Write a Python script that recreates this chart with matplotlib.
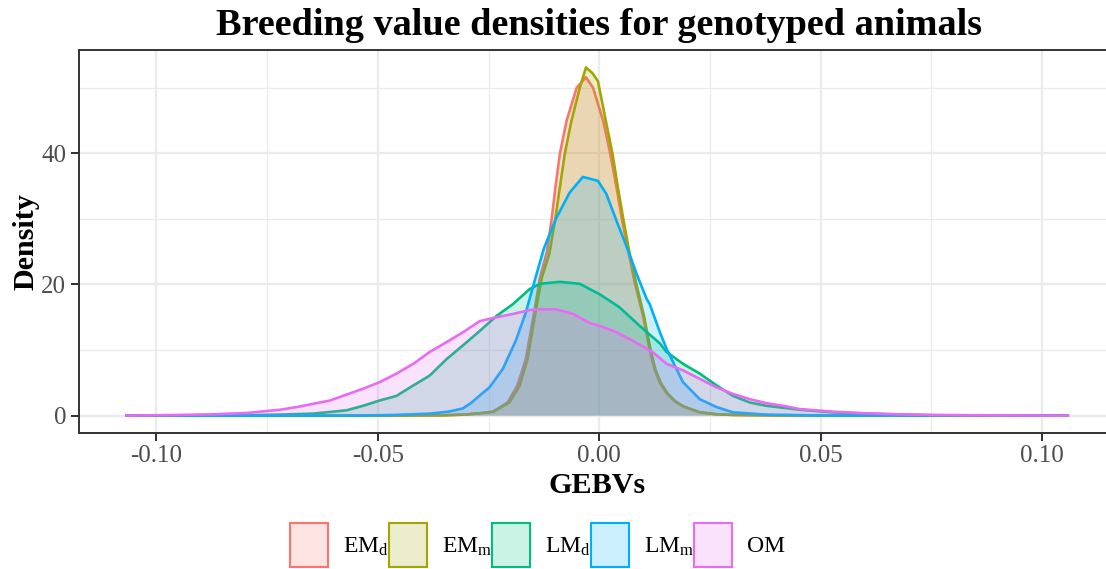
import numpy as np
import matplotlib
matplotlib.use("Agg")
import matplotlib.pyplot as plt
from matplotlib.patches import Patch
from matplotlib.colors import to_rgba

# ================= DATA =================
labels = [r"EM$_{\mathrm{d}}$", r"EM$_{\mathrm{m}}$", r"LM$_{\mathrm{d}}$",
          r"LM$_{\mathrm{m}}$", "OM"]
colors = ["#F8766D", "#A3A500", "#00BF7D", "#00B0F6", "#E76BF3"]

emd_x = [-0.1068, -0.045, -0.035, -0.0308, -0.027, -0.0241, -0.0207, -0.0185, -0.0166,
         -0.0149, -0.0134, -0.0118, -0.0108, -0.0099, -0.0089, -0.0074, -0.0051, -0.0030,
         -0.0014, 0.0009, 0.0025, 0.0039, 0.0052, 0.0066, 0.0080, 0.0099, 0.0114, 0.0125,
         0.0137, 0.0152, 0.0170, 0.0189, 0.0227, 0.0265, 0.0302, 0.040, 0.1058]
emd_y = [0, 0, 0.05, 0.15, 0.35, 0.6, 2.0, 4.6, 8.6,
         15.0, 21.0, 25.0, 29.7, 34.8, 39.9, 44.9, 50.0, 51.6,
         50.0, 44.9, 39.9, 34.8, 29.7, 25.0, 20.3, 15.2, 10.0, 7.0,
         5.0, 3.4, 2.2, 1.4, 0.5, 0.2, 0.1, 0.02, 0]

emm_x = [-0.1068, -0.045, -0.035, -0.0305, -0.0268, -0.0238, -0.0203, -0.0180, -0.0162,
         -0.0146, -0.0130, -0.0113, -0.0100, -0.0089, -0.0078, -0.0063, -0.0044, -0.0030,
         -0.0015, -0.0003, 0.0015, 0.0030, 0.0042, 0.0055, 0.0069, 0.0083, 0.0101, 0.0116,
         0.0127, 0.0139, 0.0154, 0.0172, 0.0190, 0.0227, 0.0265, 0.0302, 0.040, 0.1058]
emm_y = [0, 0, 0.05, 0.15, 0.35, 0.6, 2.0, 4.5, 8.6,
         15.0, 21.0, 24.6, 29.7, 34.8, 39.9, 44.9, 50.0, 53.1,
         52.2, 51.0, 44.9, 39.9, 34.8, 29.7, 24.6, 20.3, 15.2, 10.0,
         7.0, 5.0, 3.4, 2.2, 1.4, 0.5, 0.2, 0.1, 0.02, 0]

lmd_x = [-0.1068, -0.080, -0.072, -0.0646, -0.0571, -0.0533, -0.0496, -0.0458, -0.0420,
         -0.0383, -0.0345, -0.0308, -0.0270, -0.0232, -0.0195, -0.0157, -0.0134, -0.0089,
         -0.0044, 0.0001, 0.0046, 0.0091, 0.0137, 0.0152, 0.0189, 0.0227, 0.0265, 0.0302,
         0.0340, 0.0377, 0.0452, 0.0527, 0.0603, 0.0678, 0.0753, 0.1058]
lmd_y = [0, 0.05, 0.15, 0.3, 0.8, 1.5, 2.3, 3.0, 4.6,
         6.1, 8.6, 10.7, 12.9, 15.2, 17.0, 19.3, 20.1, 20.4,
         20.1, 18.5, 16.5, 13.7, 11.0, 9.7, 7.9, 6.4, 4.6, 3.0,
         2.0, 1.5, 0.9, 0.5, 0.3, 0.15, 0.05, 0]

lmm_x = [-0.1068, -0.055, -0.046, -0.0383, -0.0340, -0.0308, -0.0290, -0.0271, -0.0248,
         -0.0218, -0.0188, -0.0166, -0.0147, -0.0125, -0.0098, -0.0067, -0.0037, -0.0003,
         0.0016, 0.0039, 0.0065, 0.0085, 0.0107, 0.0114, 0.0137, 0.0152, 0.0189, 0.0227,
         0.0265, 0.0302, 0.0377, 0.050, 0.1058]
lmm_y = [0, 0, 0.1, 0.3, 0.6, 1.1, 1.9, 3.0, 4.3,
         7.1, 11.5, 15.7, 20.3, 25.5, 30.0, 34.0, 36.4, 35.8,
         33.8, 29.7, 25.2, 21.5, 17.8, 17.0, 12.7, 10.2, 5.1, 2.5,
         1.3, 0.5, 0.15, 0.02, 0]

om_x = [-0.1068, -0.0946, -0.0871, -0.0796, -0.0720, -0.0683, -0.0646, -0.0608, -0.0571,
        -0.0533, -0.0496, -0.0458, -0.0420, -0.0383, -0.0345, -0.0308, -0.0270, -0.0232,
        -0.0195, -0.0157, -0.0134, -0.0097, -0.0059, -0.0021, 0.0009, 0.0039, 0.0076,
        0.0122, 0.0152, 0.0189, 0.0227, 0.0265, 0.0302, 0.0340, 0.0377, 0.0415, 0.0452,
        0.0527, 0.0603, 0.0678, 0.0753, 0.0850, 0.1058]
om_y = [0, 0.1, 0.2, 0.4, 0.9, 1.3, 1.8, 2.3, 3.2,
        4.1, 5.1, 6.4, 7.9, 9.7, 11.2, 12.7, 14.4, 15.0,
        15.5, 16.1, 16.2, 16.2, 15.5, 14.1, 13.5, 12.7, 11.4,
        9.6, 7.9, 6.9, 5.6, 4.3, 3.3, 2.5, 1.9, 1.5, 1.0,
        0.6, 0.35, 0.2, 0.1, 0.05, 0]

series_x = [emd_x, emm_x, lmd_x, lmm_x, om_x]
series_y = [emd_y, emm_y, lmd_y, lmm_y, om_y]

x_ticks = [-0.10, -0.05, 0.0, 0.05, 0.10]
x_minor = [-0.075, -0.025, 0.025, 0.075]
y_ticks = [0, 20, 40]
y_minor = [10, 30, 50]

# ================= STYLE =================
serif = "Liberation Serif"
plt.rcParams["font.family"] = [serif, "DejaVu Serif"]
plt.rcParams["mathtext.fontset"] = "custom"
plt.rcParams["mathtext.rm"] = serif
plt.rcParams["mathtext.it"] = serif + ":italic"
plt.rcParams["mathtext.bf"] = serif + ":bold"

W, H = 1106, 569
fig = plt.figure(figsize=(W / 100, H / 100), dpi=100)
ax = fig.add_axes([79.3 / W, 1 - 433 / H, 1035.5 / W, 383 / H])

grid_col = "#EBEBEB"
dark = "#333333"

# each group: fill then outline, in ggplot order
z = 3
for xs, ys, c in zip(series_x, series_y, colors):
    xs = np.array(xs)
    ys = np.array(ys)
    ax.fill_between(xs, 0, ys, facecolor=to_rgba(c, 0.2), edgecolor="none", zorder=z)
    ax.plot(xs, ys, color=c, lw=1.9, zorder=z + 0.5, solid_joinstyle="round")
    z += 1

ax.set_xticks(x_ticks)
ax.set_xticklabels([f"{v:.2f}" for v in x_ticks])
ax.set_xticks(x_minor, minor=True)
ax.set_yticks(y_ticks)
ax.set_yticklabels([str(v) for v in y_ticks])
ax.set_yticks(y_minor, minor=True)

# limits with ggplot-like 5% expansion (after ticks so they stick)
all_x = np.concatenate([np.array(v) for v in series_x])
all_y = np.concatenate([np.array(v) for v in series_y])
xr = all_x.max() - all_x.min()
ax.set_xlim(all_x.min() - 0.05 * xr, all_x.max() + 0.05 * xr)
yr = all_y.max()
ax.set_ylim(-0.05 * yr, all_y.max() + 0.05 * yr)

ax.grid(which="major", color=grid_col, lw=1.6, zorder=0)
ax.grid(which="minor", color=grid_col, lw=0.9, zorder=0)
ax.set_axisbelow(True)

ax.tick_params(which="major", length=5.8, width=1.45, color=dark,
               labelsize=18, labelcolor="#4D4D4D")
ax.tick_params(axis="x", which="major", pad=2.5)
ax.tick_params(axis="y", which="major", pad=3.6)
ax.tick_params(which="minor", length=0)
for s in ax.spines.values():
    s.set_color(dark)
    s.set_linewidth(1.4)

cx = (79.3 + 1040.4 / 2) / W
fig.text(cx, 1 - 35 / H, "Breeding value densities for genotyped animals",
         ha="center", va="baseline", fontsize=27.5, fontweight="bold")
fig.text(597 / W, 1 - 493 / H, "GEBVs", ha="center", va="baseline",
         fontsize=21.7, fontweight="bold")
fig.text(26 / W, 1 - 241.5 / H, "Density", ha="center", va="center",
         rotation=90, fontsize=21.7, fontweight="bold")

handles = [Patch(facecolor=to_rgba(c, 0.2), edgecolor=c, linewidth=1.5) for c in colors]
fig.legend(handles, labels, loc="center left", ncol=5, frameon=False,
           bbox_to_anchor=(278 / W, 1 - 545 / H), borderpad=0,
           fontsize=17, handlelength=1.62, handleheight=2.44,
           handletextpad=0.63, columnspacing=0.0)

fig.savefig("out.png", dpi=100)
